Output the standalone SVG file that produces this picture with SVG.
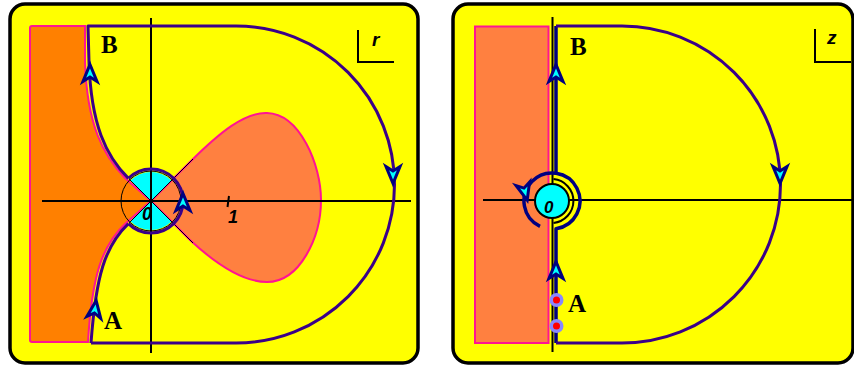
<svg xmlns="http://www.w3.org/2000/svg" width="854" height="369" viewBox="0 0 854 369">
<style>
.panel{fill:#FFFF00;stroke:#000;stroke-width:3.5}
.ax{stroke:#000;stroke-width:2;fill:none}
.thin{stroke:#000;stroke-width:1;fill:none}
.pink{stroke:#FF1493;stroke-width:2}
.path{fill:none;stroke:#3A0088;stroke-width:3;stroke-linejoin:round}
.navy{fill:none;stroke:#000080;stroke-width:3.5;stroke-linejoin:round}
.lbl{font-family:"Liberation Serif",serif;font-weight:bold;font-size:25px;fill:#000}
.num{font-family:"Liberation Sans",sans-serif;font-weight:bold;font-style:italic;fill:#000}
</style>
<defs>
<path id="arr" d="M0,-8.5 L7,8.5 L0,4 L-7,8.5 Z" fill="#00FFFF" stroke="#000080" stroke-width="3" stroke-linejoin="miter"/>
</defs>

<g id="panel-r">
<rect class="panel" x="10" y="4" width="408" height="359" rx="15"/>
<path d="M30,28 Q30,26 32,26 L85,26 L85,62 C87,125 103,155 125,178 L151,201 L125,224 C102,246 92,275 88,342 L32,342 Q30,342 30,340 Z" fill="#FF8000" class="pink"/>
<path d="M151,201 L190,162 C220,132 245,112 267,113 C300,114 321,165 321,200 C321,237 300,282 267,282 C245,282 218,266 190,240 Z" fill="#FF8040" class="pink"/>
<path d="M151,201 L130.5,180.5 A29,29 0 0 1 171.5,180.5 Z" fill="#00FFFF"/>
<path d="M151,201 L171.5,221.5 A29,29 0 0 1 130.5,221.5 Z" fill="#00FFFF"/>
<circle class="thin" cx="151" cy="201" r="30"/>
<line class="thin" x1="129" y1="179" x2="193" y2="243"/>
<line class="thin" x1="129" y1="223" x2="193" y2="159"/>
<line class="ax" x1="42" y1="201" x2="411" y2="201"/>
<line class="ax" x1="151" y1="18" x2="151" y2="353"/>
<line class="ax" x1="229" y1="196" x2="227.5" y2="207"/>
<text class="num" x="142" y="220" font-size="18">0</text>
<text class="num" x="228" y="223" font-size="18">1</text>
<path class="ax" d="M358,30 L358,62 L394,62" stroke-width="3"/>
<text class="num" x="372" y="46" font-size="19">r</text>
<text class="lbl" x="101" y="53">B</text>
<text class="lbl" x="104" y="329">A</text>
</g>

<g id="panel-z">
<rect class="panel" x="453" y="4" width="400" height="359" rx="15"/>
<rect x="475" y="26.5" width="73.5" height="316.5" fill="#FF8040" class="pink"/>
<line class="ax" x1="483" y1="200" x2="854" y2="200"/>
<line class="ax" x1="552.5" y1="17" x2="552.5" y2="352"/>
<circle cx="552" cy="201" r="17" fill="#00FFFF" stroke="#000" stroke-width="2"/>
<path class="ax" d="M553.5,179.1 A22,22 0 0 1 553.5,222.9" stroke-width="1.5"/>
<text class="num" x="544" y="213" font-size="17">0</text>
<path class="ax" d="M815,29 L815,62 L851,62" stroke-width="3"/>
<text class="num" x="827" y="44" font-size="19">z</text>
<text class="lbl" x="570" y="55">B</text>
<text class="lbl" x="568" y="312">A</text>
</g>

<g id="connectors">
<path class="path" d="M91,343 C96,275 105,246 128.4,223.6"/>
<path class="path" stroke-width="4.5" d="M128.4,223.6 A32,32 0 1 0 128.4,178.4"/>
<path class="path" d="M128.4,178.4 C106,156 91,125 89,62 L88,26 L236,26 A158.5,158.5 0 0 1 236,343 L91,343"/>
<use href="#arr" transform="translate(90,73)"/>
<use href="#arr" transform="translate(95,309) rotate(8)"/>
<use href="#arr" transform="translate(183,202)"/>
<use href="#arr" transform="translate(393,175) rotate(180)"/>

<path class="navy" d="M556,343 L556,228.7 A28,28 0 1 0 540,226.3"/>
<path class="navy" d="M556,173.3 L556,26"/>
<path class="path" d="M556,26 L622,26 A158.5,158.5 0 0 1 622,343 L556,343"/>
<use href="#arr" transform="translate(556,73)"/>
<use href="#arr" transform="translate(556,270)"/>
<use href="#arr" transform="translate(525,192) rotate(165)"/>
<use href="#arr" transform="translate(780,175) rotate(180)"/>
<circle cx="556.5" cy="300" r="7" fill="#8888FF"/>
<circle cx="556.5" cy="300" r="3.5" fill="#FF0000"/>
<circle cx="556.5" cy="326" r="7" fill="#8888FF"/>
<circle cx="556.5" cy="326" r="3.5" fill="#FF0000"/>
</g>
</svg>
